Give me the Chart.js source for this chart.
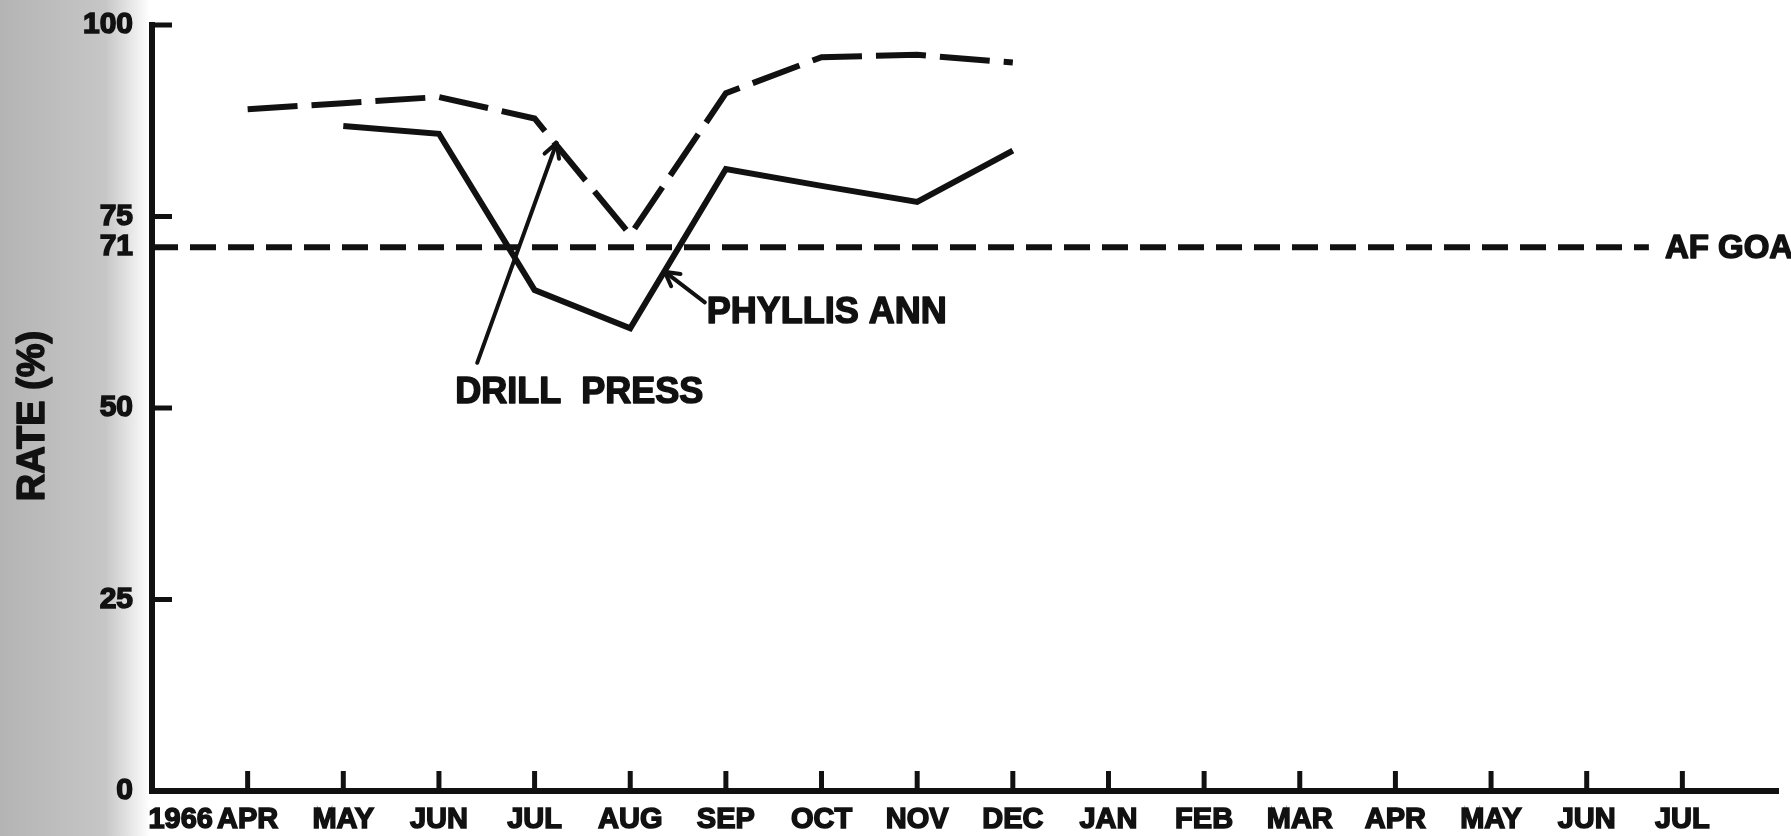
<!DOCTYPE html>
<html>
<head>
<meta charset="utf-8">
<title>Rate vs AF goal</title>
<script src="https://cdn.jsdelivr.net/npm/chart.js@4.4.1/dist/chart.umd.min.js"></script>
<style>
    html, body { margin: 0; padding: 0; background: #fff; }
    #wrap { width: 1791px; height: 836px; }
</style>
</head>
<body>
<div id="wrap"><canvas id="chart" width="1791" height="836"></canvas></div>
<script>
const yearLabel = '1966';
const monthLabels = ['APR', 'MAY', 'JUN', 'JUL', 'AUG', 'SEP', 'OCT', 'NOV', 'DEC',
    'JAN', 'FEB', 'MAR', 'APR', 'MAY', 'JUN', 'JUL'];
// monthly values, APR .. DEC
const drillPress = [89.0, 89.8, 90.6, 87.8, 72.6, 91.1, 95.8, 96.1, 95.1];
const phyllisAnn = [null, 86.8, 85.8, 65.4, 60.4, 81.2, 79.0, 76.9, 83.6];
const goalValue = 71;
const goalLabel = 'AF GOAL';
const yTicks = [0, 25, 50, 71, 75, 100];
const yTitle = 'RATE (%)';

const ink = '#111';
const font = 'Liberation Sans, Arial, sans-serif';
const goalEnd = 15.65;      // where the dashed goal line stops (month units)
const yearPos = 0.3;        // year label sits just right of the axis corner

// hand-drawn labels with pointer lines (in data units)
const notes = [
    { text: 'DRILL  PRESS', x: 3.17, y: 52.0, from: [3.40, 55.9], to: [4.23, 84.6] },
    { text: 'PHYLLIS ANN', x: 5.80, y: 62.4, from: [5.78, 63.8], to: [5.36, 67.8] }
];

function toPoints(values) {
    return values.map((v, i) => ({ x: i + 1, y: v }));
}

function arrowHead(ctx, x0, y0, x1, y1, size) {
    const a = Math.atan2(y1 - y0, x1 - x0);
    ctx.beginPath();
    ctx.moveTo(x1 - size * Math.cos(a - 0.5), y1 - size * Math.sin(a - 0.5));
    ctx.lineTo(x1, y1);
    ctx.lineTo(x1 - size * Math.cos(a + 0.5), y1 - size * Math.sin(a + 0.5));
    ctx.stroke();
}

// bold text with a little extra ink, like the scanned lettering
function heavyText(ctx, text, x, y) {
    ctx.lineWidth = 1.5;
    ctx.lineJoin = 'round';
    ctx.fillText(text, x, y);
    ctx.strokeText(text, x, y);
}

const inkPlugin = {
    id: 'ink',
    beforeDraw(chart) {
        const ctx = chart.ctx;
        ctx.save();
        ctx.fillStyle = '#fff';
        ctx.fillRect(0, 0, chart.width, chart.height);
        // grey smudge of the scanned left margin
        const g = ctx.createLinearGradient(0, 0, 150, 0);
        g.addColorStop(0, '#b4b4b4');
        g.addColorStop(0.7, '#c6c6c6');
        g.addColorStop(1, '#ffffff');
        ctx.fillStyle = g;
        ctx.fillRect(0, 0, 150, chart.height);
        ctx.restore();
    },
    afterDraw(chart) {
        const { ctx, chartArea } = chart;
        const xs = chart.scales.x;
        const ys = chart.scales.y;
        ctx.save();
        ctx.strokeStyle = ink;
        ctx.fillStyle = ink;

        // tick marks point inwards
        ctx.lineWidth = 5;
        xs.ticks.forEach((t, i) => {
            if (i === 0) return;
            const px = xs.getPixelForValue(t.value);
            ctx.beginPath();
            ctx.moveTo(px, chartArea.bottom);
            ctx.lineTo(px, chartArea.bottom - 20);
            ctx.stroke();
        });
        ys.ticks.forEach(t => {
            if (t.value === 0 || t.value === goalValue) return;
            const py = ys.getPixelForValue(t.value);
            ctx.beginPath();
            ctx.moveTo(chartArea.left, py);
            ctx.lineTo(chartArea.left + 20, py);
            ctx.stroke();
        });

        // y title, drawn here so it gets the same heavy lettering
        ctx.save();
        ctx.translate(34, (chartArea.top + chartArea.bottom) / 2 + 8);
        ctx.rotate(-Math.PI / 2);
        ctx.font = 'bold 38px ' + font;
        ctx.textAlign = 'center';
        ctx.textBaseline = 'middle';
        heavyText(ctx, yTitle, 0, 0);
        ctx.restore();

        // goal label, runs off the right edge like the original
        ctx.font = 'bold 33px ' + font;
        ctx.textBaseline = 'middle';
        ctx.textAlign = 'left';
        heavyText(ctx, goalLabel, xs.getPixelForValue(goalEnd) + 16, ys.getPixelForValue(goalValue) + 2);

        // series labels and pointers
        notes.forEach(n => {
            const x0 = xs.getPixelForValue(n.from[0]);
            const y0 = ys.getPixelForValue(n.from[1]);
            const x1 = xs.getPixelForValue(n.to[0]);
            const y1 = ys.getPixelForValue(n.to[1]);
            ctx.lineWidth = 4;
            ctx.lineCap = 'round';
            ctx.beginPath();
            ctx.moveTo(x0, y0);
            ctx.lineTo(x1, y1);
            ctx.stroke();
            arrowHead(ctx, x0, y0, x1, y1, 16);
            ctx.font = 'bold 36px ' + font;
            heavyText(ctx, n.text, xs.getPixelForValue(n.x), ys.getPixelForValue(n.y));
        });
        ctx.restore();
    }
};

const ctx = document.getElementById('chart').getContext('2d');
new Chart(ctx, {
    type: 'line',
    data: {
        datasets: [{
            label: 'DRILL PRESS',
            data: toPoints(drillPress),
            borderColor: ink,
            borderWidth: 6,
            borderDash: [50, 14],
            pointRadius: 0,
            tension: 0
        }, {
            label: 'PHYLLIS ANN',
            data: toPoints(phyllisAnn),
            borderColor: ink,
            borderWidth: 6,
            pointRadius: 0,
            tension: 0
        }, {
            label: goalLabel,
            data: [{ x: 0, y: goalValue }, { x: goalEnd, y: goalValue }],
            borderColor: ink,
            borderWidth: 6,
            borderDash: [26, 12],
            pointRadius: 0
        }]
    },
    options: {
        responsive: false,
        animation: false,
        layout: { padding: { top: 25, right: 13, left: 0, bottom: 0 } },
        plugins: {
            legend: { display: false },
            tooltip: { enabled: false }
        },
        scales: {
            x: {
                type: 'linear',
                min: 0,
                max: 17,
                grid: { display: false, drawTicks: false },
                border: { color: ink, width: 6 },
                afterBuildTicks: scale => {
                    scale.ticks = [{ value: yearPos }].concat(monthLabels.map((_, i) => ({ value: i + 1 })));
                },
                afterFit: scale => {
                    scale.height = 45;
                    scale.paddingLeft = 0;
                    scale.paddingRight = 0;
                },
                ticks: {
                    autoSkip: false,
                    maxRotation: 0,
                    padding: 12,
                    color: ink,
                    textStrokeColor: ink,
                    textStrokeWidth: 1.5,
                    font: { family: font, size: 29, weight: 'bold' },
                    callback: (value, index) => index === 0 ? yearLabel : monthLabels[index - 1]
                }
            },
            y: {
                min: 0,
                max: 100,
                grid: { display: false, drawTicks: false },
                border: { color: ink, width: 6 },
                afterBuildTicks: scale => {
                    scale.ticks = yTicks.map(v => ({ value: v }));
                },
                afterFit: scale => {
                    scale.width = 152;
                    scale.paddingTop = 0;
                    scale.paddingBottom = 0;
                },
                ticks: {
                    autoSkip: false,
                    padding: 19,
                    color: ink,
                    textStrokeColor: ink,
                    textStrokeWidth: 1.5,
                    font: { family: font, size: 30, weight: 'bold' }
                },
                title: { display: false }
            }
        }
    },
    plugins: [inkPlugin]
});
</script>
</body>
</html>
